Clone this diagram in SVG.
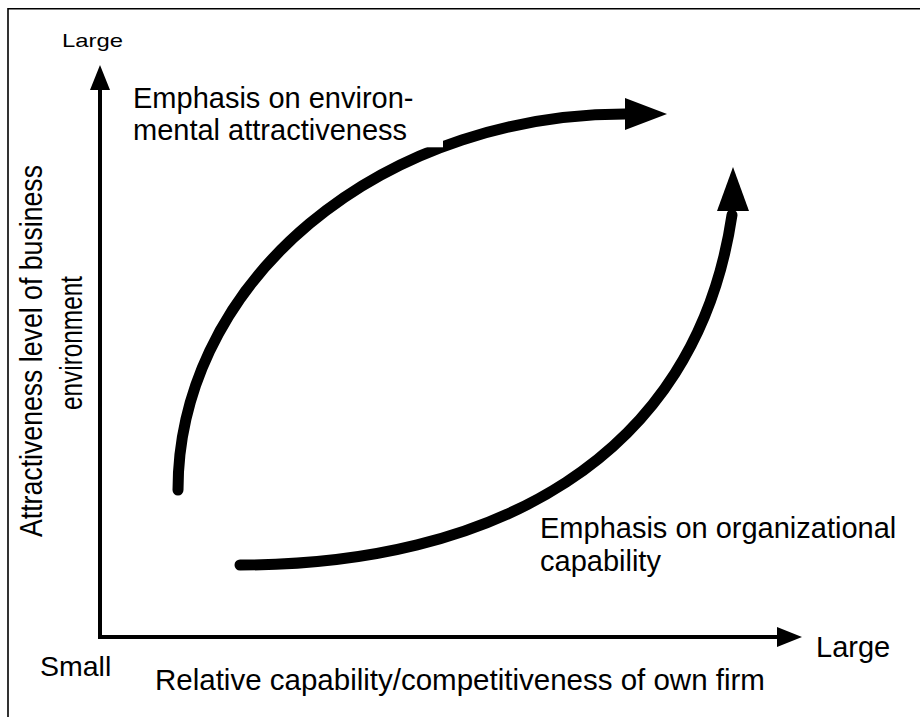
<svg xmlns="http://www.w3.org/2000/svg" width="920" height="717" viewBox="0 0 920 717">
  <style>
    .lbl { font-family: "Liberation Sans", Arial, sans-serif; font-size: 29px; fill: #000; }
    .axis { fill: none; stroke: #000; stroke-width: 4; stroke-linejoin: miter; }
    .flow { fill: none; stroke: #000; stroke-width: 11; stroke-linecap: round; }
    .head { fill: #000; stroke: none; }
  </style>

  <rect width="920" height="717" fill="#fff"/>
  <!-- frame -->
  <path d="M8,717 V8.75 H920" fill="none" stroke="#000" stroke-width="1.6"/>

  <!-- axes -->
  <g id="axes">
    <polyline class="axis" points="100,88 100,637 779,637"/>
    <polygon class="head" points="100,65 110,90 90,90"/>
    <polygon class="head" points="802,637 777,627 777,647"/>
  </g>

  <!-- connectors: the two strategy paths -->
  <g id="connectors">
    <path class="flow" d="M178,490 A447,376 0 0 1 627,114"/>
    <polygon class="head" points="625,98 667,114 625,130"/>
    <path class="flow" d="M240,565 C490,565 695.5,461 732,215"/>
    <polygon class="head" points="733,167 749,211 717,211"/>
  </g>

  <g id="label-environment">
    <rect x="128" y="78" width="315" height="69.3" fill="#fff"/>
    <text class="lbl" x="133" y="108">Emphasis on environ-</text>
    <text class="lbl" x="133" y="140">mental attractiveness</text>
  </g>

  <g id="label-organization">
    <text class="lbl" x="540" y="538">Emphasis on organizational</text>
    <text class="lbl" x="540" y="571">capability</text>
  </g>

  <g id="label-y-axis">
    <text class="lbl" x="62" y="47" style="font-size:19px" textLength="61" lengthAdjust="spacingAndGlyphs">Large</text>
    <text class="lbl" transform="translate(42,537) rotate(-90)" style="font-size:31px" textLength="372" lengthAdjust="spacingAndGlyphs">Attractiveness level of business</text>
    <text class="lbl" transform="translate(82,410) rotate(-90)" style="font-size:31px" textLength="134" lengthAdjust="spacingAndGlyphs">environment</text>
  </g>

  <g id="label-x-axis">
    <text class="lbl" x="40" y="676" style="font-size:28.5px">Small</text>
    <text class="lbl" x="816" y="657">Large</text>
    <text class="lbl" x="155" y="690" style="font-size:29.5px">Relative capability/competitiveness of own firm</text>
  </g>
</svg>
